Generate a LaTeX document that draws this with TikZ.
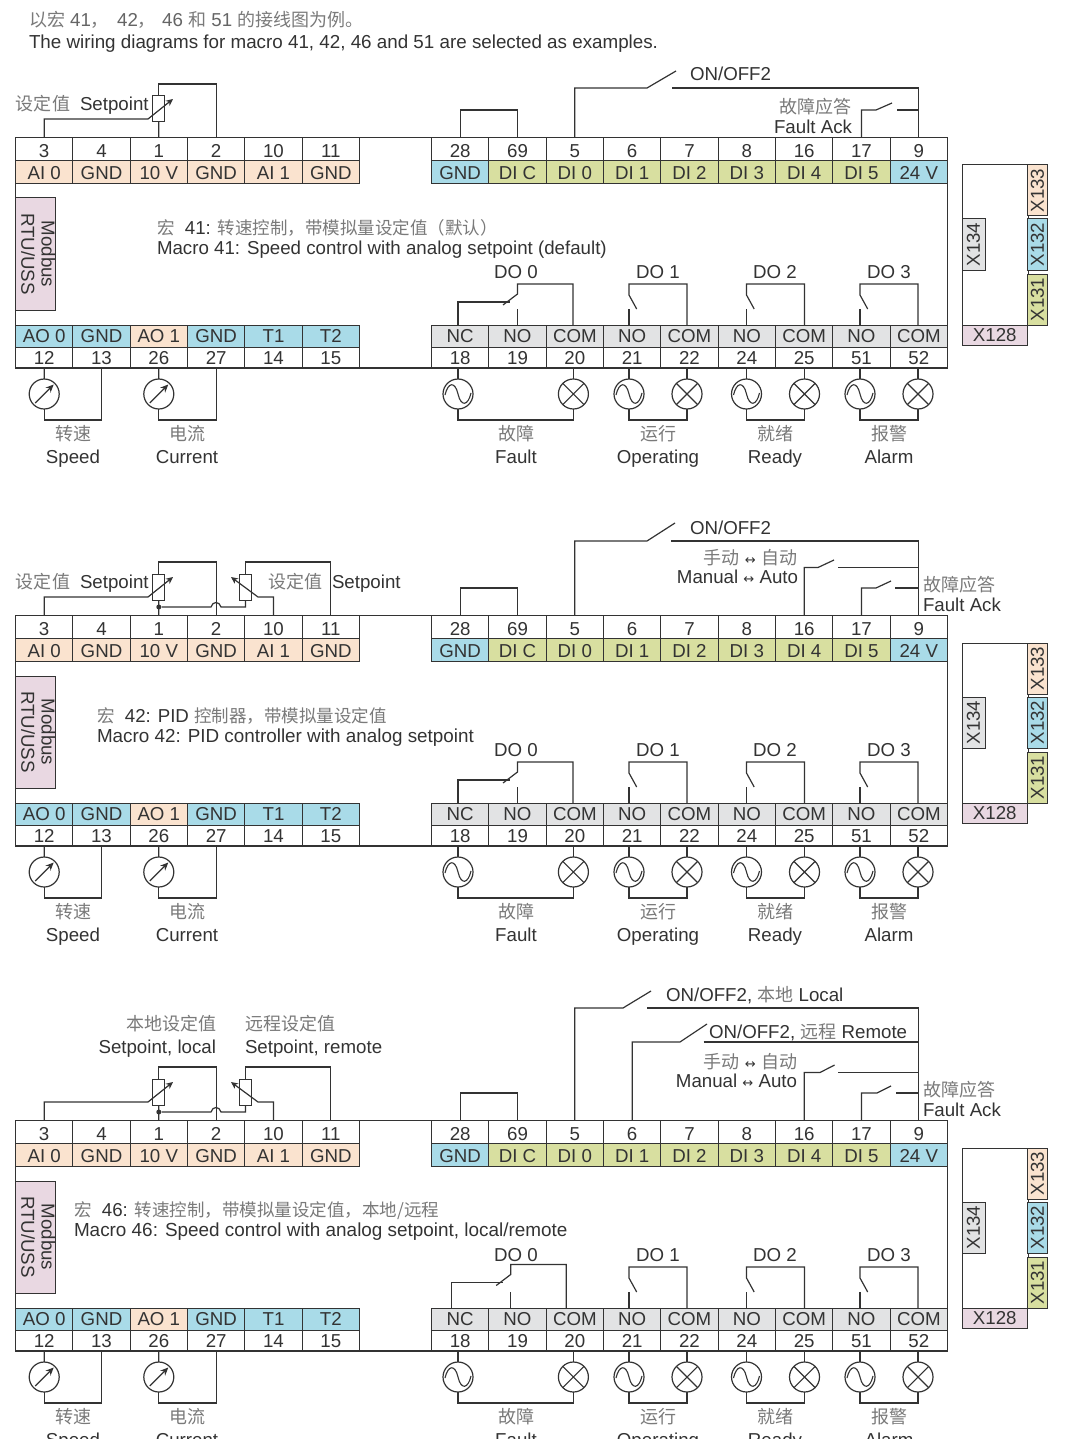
\documentclass[tikz,border=0pt]{standalone}
\usepackage{fontspec}
\setmainfont{Liberation Sans}
\newfontfamily\cjk{Noto Sans CJK SC}
\newfontfamily\symf{DejaVu Sans}
\usetikzlibrary{arrows.meta,calc}
\definecolor{ink}{HTML}{333333}
\definecolor{zhgray}{HTML}{7A7A7A}
\definecolor{peach}{HTML}{FAE3CF}
\definecolor{cblue}{HTML}{A9DBE8}
\definecolor{cgreen}{HTML}{D8DFA0}
\definecolor{cgray}{HTML}{E2E3E4}
\definecolor{cpink}{HTML}{E9D8E2}
\newcommand\termfont{\fontsize{18.7}{20}\selectfont}
\newcommand\zh[1]{{\cjk\fontsize{18}{20}\selectfont\color{zhgray}#1}}
\newcommand\zhm[1]{{\cjk\fontsize{17.5}{20}\selectfont\color{zhgray}#1}}
\newcommand\dbl{{\symf\fontsize{13}{13}\selectfont ↔}}
\newcommand\mylabel[4]{\node[txtnode,anchor=#1] (#2) at (#3) {#4};}
\tikzset{
  wire/.style={draw=ink,line width=1.2pt},
  slider/.style={wire,-{Stealth[length=7pt,width=6.5pt]}},
  term/.style={draw=ink,line width=.9pt,inner sep=0pt,outer sep=0pt,minimum width=57.33pt,
    anchor=north west,text=ink,font=\termfont,text height=13pt,text depth=0pt},
  txtnode/.style={inner sep=0pt,outer sep=0pt,text=ink,font=\termfont,yshift=-4pt},
  potbox/.style={draw=ink,fill=white,line width=1pt,inner sep=0pt,outer sep=0pt,minimum width=12pt,minimum height=26pt},
  conn/.style={draw=ink,line width=1pt,inner sep=0pt,outer sep=0pt,text=ink,font=\termfont,anchor=north west},
  symb/.style={circle,draw=ink,line width=1.2pt,inner sep=0pt,outer sep=0pt,minimum size=30pt},
  metersym/.style={symb},
  sinesym/.style={symb,path picture={\draw[ink,line width=1.1pt,shift={(path picture bounding box.center)}]
     (-13,1) .. controls (-10,-12) and (-3,-13) .. (0,0) .. controls (3,13) and (10,12) .. (13,-1);}},
  lampsym/.style={symb,path picture={\draw[ink,line width=1.1pt,shift={(path picture bounding box.center)}]
     (-11,-11) -- (11,11) (-11,11) -- (11,-11);}},
  jdot/.style={circle,fill=ink,inner sep=0pt,minimum size=5pt},
}
\newcommand\commonpanel{%
  \foreach \num/\lab/\col [count=\i from 0] in {3/AI 0/peach,4/GND/peach,1/10 V/peach,2/GND/peach,10/AI 1/peach,11/GND/peach}{
    \node[term,minimum height=23pt,text height=17pt] (n\num) at ({15.5+57.33*\i},137.5) {\num};
    \node[term,minimum height=22.5pt,fill=\col,text height=15pt] (l\num) at ({15.5+57.33*\i},160.5) {\lab};
  }
  \foreach \num/\lab/\col [count=\i from 0] in {28/GND/cblue,69/DI C/cgreen,5/DI 0/cgreen,6/DI 1/cgreen,7/DI 2/cgreen,8/DI 3/cgreen,16/DI 4/cgreen,17/DI 5/cgreen,9/24 V/cblue}{
    \node[term,minimum height=23pt,text height=17pt] (n\num) at ({431.5+57.33*\i},137.5) {\num};
    \node[term,minimum height=22.5pt,fill=\col,text height=15pt] (l\num) at ({431.5+57.33*\i},160.5) {\lab};
  }
  \foreach \num/\lab/\col [count=\i from 0] in {12/AO 0/cblue,13/GND/cblue,26/AO 1/peach,27/GND/cblue,14/T1/cblue,15/T2/cblue}{
    \node[term,minimum height=22pt,fill=\col] (l\num) at ({15.5+57.33*\i},325) {\lab};
    \node[term,minimum height=21pt] (n\num) at ({15.5+57.33*\i},347) {\num};
  }
  \foreach \num/\lab [count=\i from 0] in {18/NC,19/NO,20/COM,21/NO,22/COM,24/NO,25/COM,51/NO,52/COM}{
    \node[term,minimum height=22pt,fill=cgray] (l\num) at ({431.5+57.33*\i},325) {\lab};
    \node[term,minimum height=21pt] (n\num) at ({431.5+57.33*\i},347) {\num};
  }
  \node[draw=ink,line width=1.7pt,inner sep=0pt,outer sep=0pt,minimum width=932pt,minimum height=230.5pt,anchor=north west] (frame) at (15.5,137.5) {};
  \node[conn,fill=cpink,minimum width=40pt,minimum height=112pt] (modbus) at (15.5,198)
    {\rotatebox{-90}{\begin{tabular}{@{}c@{}}Modbus\\[0pt] RTU/USS\end{tabular}}};
  % plug diagram
  \node[conn,minimum width=66pt,minimum height=160pt] (xbody) at (962,165) {};
  \node[conn,fill=peach,minimum width=20pt,minimum height=51pt] (x133) at (1027.5,165) {\rotatebox{90}{X133}};
  \node[conn,fill=cblue,minimum width=20pt,minimum height=51pt] (x132) at (1027.5,219) {\rotatebox{90}{X132}};
  \node[conn,fill=cgreen,minimum width=20pt,minimum height=51pt] (x131) at (1027.5,274) {\rotatebox{90}{X131}};
  \node[conn,fill=cgray,minimum width=23pt,minimum height=51pt] (x134) at (962,219) {\rotatebox{90}{X134}};
  \node[conn,fill=cpink,minimum width=65.5pt,minimum height=20pt] (x128) at (962,325) {X128};
  % meters
  \node[metersym] (m12) at (44.2,394) {};
  \node[metersym] (m26) at (158.8,394) {};
  \draw[ink,line width=1.2pt,-{Stealth[length=8pt,width=7pt]}] ($(m12)+(-9,9)$) -- ($(m12)+(9.5,-9.5)$);
  \draw[ink,line width=1.2pt,-{Stealth[length=8pt,width=7pt]}] ($(m26)+(-9,9)$) -- ($(m26)+(9.5,-9.5)$);
  \draw[wire] (n12.south) -- (m12.north);
  \draw[wire] (m12.south) -- ++(0,11) -| (n13.south);
  \draw[wire] (n26.south) -- (m26.north);
  \draw[wire] (m26.south) -- ++(0,11) -| (n27.south);
  % relay outputs
  \foreach \no/\com/\sx/\cx in {18/20/458/573.4,21/22/629/687,24/25/746.5/804.5,51/52/860/918}{
    \node[sinesym] (s\no) at (\sx,394) {};
    \node[lampsym] (c\com) at (\cx,394) {};
    \draw[wire] (s\no.north) -- (s\no.north |- n\no.south);
    \draw[wire] (c\com.north) -- (c\com.north |- n\com.south);
    \draw[wire] (s\no.south) -- ++(0,11) -| (c\com.south);
  }
  \foreach \no/\com/\sx/\cx in {21/22/629/687,24/25/746.5/804.5,51/52/860/918}{
    \draw[wire] (\cx,325) |- (\sx,284) -- (\sx,295) -- ({\sx+7.7},309);
    \draw[wire] (\sx,325) -- (\sx,309);
  }
  % labels
  \mylabel{mid}{speedz}{73,434}{\zh{转速}}
  \mylabel{mid}{speed}{73,457}{Speed}
  \mylabel{mid}{curz}{187,434}{\zh{电流}}
  \mylabel{mid}{cur}{187,457}{Current}
  \mylabel{mid}{faultz}{516,434}{\zh{故障}}
  \mylabel{mid}{fault}{516,457}{Fault}
  \mylabel{mid}{opz}{658,434}{\zh{运行}}
  \mylabel{mid}{op}{658,457}{Operating}
  \mylabel{mid}{readyz}{775,434}{\zh{就绪}}
  \mylabel{mid}{ready}{775,457}{Ready}
  \mylabel{mid}{alarmz}{889,434}{\zh{报警}}
  \mylabel{mid}{alarm}{889,457}{Alarm}
  \mylabel{mid}{do0}{516,272}{DO 0}
  \mylabel{mid}{do1}{658,272}{DO 1}
  \mylabel{mid}{do2}{775,272}{DO 2}
  \mylabel{mid}{do3}{889,272}{DO 3}
  \draw[wire] (n28.north) -- ++(0,-27.5) -| (n69.north);
}
% #1 dx, #2 dy of the changeover contact DO 0
\newcommand\dozero[2]{%
  \draw[wire] ({458+#1},325) |- ({510+#1},{302+#2});
  \draw[wire] ({517.5+#1},325) -- ({517.5+#1},308.5);
  \draw[wire] ({573+#1},325) |- ({517.5+#1},{284+#2}) -- ({517.5+#1},{294+#2}) -- ({503+#1},{305+#2});
}
\newcommand\onepot{%
  \node[potbox] (potA) at (158.8,109) {};
  \draw[wire] (n1.north) -- (potA.south);
  \draw[wire] (potA.north) -- ++(0,-12) -| (n2.north);
  \draw[slider] (n3.north) |- (148,119) -- (173,99);
}
\newcommand\twinpots{%
  \node[potbox] (potA) at (158.8,109) {};
  \node[potbox] (potB) at (245.5,109) {};
  \node[jdot] (junc) at (158.8,129) {};
  \draw[wire] (n1.north) -- (potA.south);
  \draw[wire] (potA.north) -- ++(0,-12) -| (n2.north);
  \draw[slider] (n3.north) |- (148,119) -- (173,99);
  \draw[wire] (junc) -- (211,129) .. controls (212.5,123) and (219.5,123) .. (221,129) -| (potB.south);
  \draw[wire] (potB.north) -- ++(0,-12) -| (n11.north);
  \draw[slider] (n10.north) |- (258,119) -- (231,99);
}
\begin{document}
\begin{tikzpicture}[x=1pt,y=-1pt]
\useasboundingbox (0,0) rectangle (1071,1439);
\fill[white] (0,0) rectangle (1071,1439);
\mylabel{mid west}{head1}{29,20}{\color{zhgray!70!ink}\zh{以宏}\ 41\zh{，}\hspace{3pt} 42\zh{，}\hspace{1pt} 46 \zh{和} 51 \zh{的接线图为例。}}
\mylabel{mid west}{head2}{29,42}{\fontsize{18.8}{20}\selectfont The wiring diagrams for macro 41, 42, 46 and 51 are selected as examples.}

\begin{scope}[name prefix=p1-]
  \commonpanel
  \dozero{0}{0}
  \onepot
  \draw[wire] (n5.north) |- (647,88) -- (676,71);
  \draw[wire] (n9.north) |- (672,88);
  \draw[wire] (n17.north) |- (876,110) -- (892,103);
  \draw[wire] (897,110) -- (897,110 -| n9.north);
  \mylabel{mid west}{sz}{16,104}{\zh{设定值}}
  \mylabel{mid west}{se}{80,104}{Setpoint}
  \mylabel{mid west}{onoff}{690,74}{ON/OFF2}
  \mylabel{mid east}{fz}{851,107}{\zh{故障应答}}
  \mylabel{mid east}{fe}{852,127}{Fault Ack}
  \mylabel{mid west}{mz}{157,228}{\zhm{宏}\ \ 41: \zhm{转速控制，带模拟量设定值（默认）}}
  \mylabel{mid west}{me}{157,248}{Macro 41: Speed control with analog setpoint (default)}
\end{scope}

\begin{scope}[shift={(0,478)},name prefix=p2-]
  \commonpanel
  \dozero{0}{0}
  \twinpots
  \draw[wire] (n5.north) |- (647,63) -- (675,45);
  \draw[wire] (n9.north) |- (671,63);
  \draw[wire] (n16.north) |- (818,89.5) -- (834,82);
  \draw[wire] (838,89.5) -- (838,89.5 -| n9.north);
  \draw[wire] (n17.north) |- (876,110) -- (891,103);
  \draw[wire] (895,110) -- (895,110 -| n9.north);
  \mylabel{mid west}{sz}{16,104}{\zh{设定值}}
  \mylabel{mid west}{se}{80,104}{Setpoint}
  \mylabel{mid west}{sz2}{268,104}{\zh{设定值}}
  \mylabel{mid west}{se2}{332,104}{Setpoint}
  \mylabel{mid west}{onoff}{690,50}{ON/OFF2}
  \mylabel{mid east}{mnz}{797,80}{\zh{手动} \dbl{} \zh{自动}}
  \mylabel{mid east}{mne}{798,99}{Manual \dbl{} Auto}
  \mylabel{mid west}{fz}{923,107}{\zh{故障应答}}
  \mylabel{mid west}{fe}{923,127}{Fault Ack}
  \mylabel{mid west}{mz}{97,238}{\zhm{宏}\ \ 42: PID \zhm{控制器，带模拟量设定值}}
  \mylabel{mid west}{me}{97,258}{\fontsize{18.85}{20}\selectfont Macro 42: PID controller with analog setpoint}
\end{scope}

\begin{scope}[shift={(0,983)},name prefix=p3-]
  \commonpanel
  \dozero{-6.8}{-2.5}
  \twinpots
  \draw[wire] (n5.north) |- (623,25) -- (651,8);
  \draw[wire] (n9.north) |- (647,25);
  \draw[wire] (n6.north) |- (680,59) -- (707,41);
  \draw[wire] (703.5,59) -- (703.5,59 -| n9.north);
  \draw[wire] (n16.north) |- (820,89.5) -- (834.6,82);
  \draw[wire] (838,89.5) -- (838,89.5 -| n9.north);
  \draw[wire] (n17.north) |- (877,110) -- (891,103);
  \draw[wire] (896,110) -- (896,110 -| n9.north);
  \mylabel{mid east}{slz}{216,41}{\zh{本地设定值}}
  \mylabel{mid east}{sle}{216,64}{Setpoint, local}
  \mylabel{mid west}{srz}{245,41}{\zh{远程设定值}}
  \mylabel{mid west}{sre}{245,64}{Setpoint, remote}
  \mylabel{mid west}{onl}{666,12}{ON/OFF2, \zh{本地} Local}
  \mylabel{mid west}{onr}{709,49}{ON/OFF2, \zh{远程} Remote}
  \mylabel{mid east}{mnz}{797,79}{\zh{手动} \dbl{} \zh{自动}}
  \mylabel{mid east}{mne}{797,98}{Manual \dbl{} Auto}
  \mylabel{mid west}{fz}{923,107}{\zh{故障应答}}
  \mylabel{mid west}{fe}{923,127}{Fault Ack}
  \mylabel{mid west}{mz}{74,227}{\zhm{宏}\ \ 46: \zhm{转速控制，带模拟量设定值，本地/远程}}
  \mylabel{mid west}{me}{74,247}{\fontsize{18.9}{20}\selectfont Macro 46: Speed control with analog setpoint, local/remote}
\end{scope}
\end{tikzpicture}
\end{document}
